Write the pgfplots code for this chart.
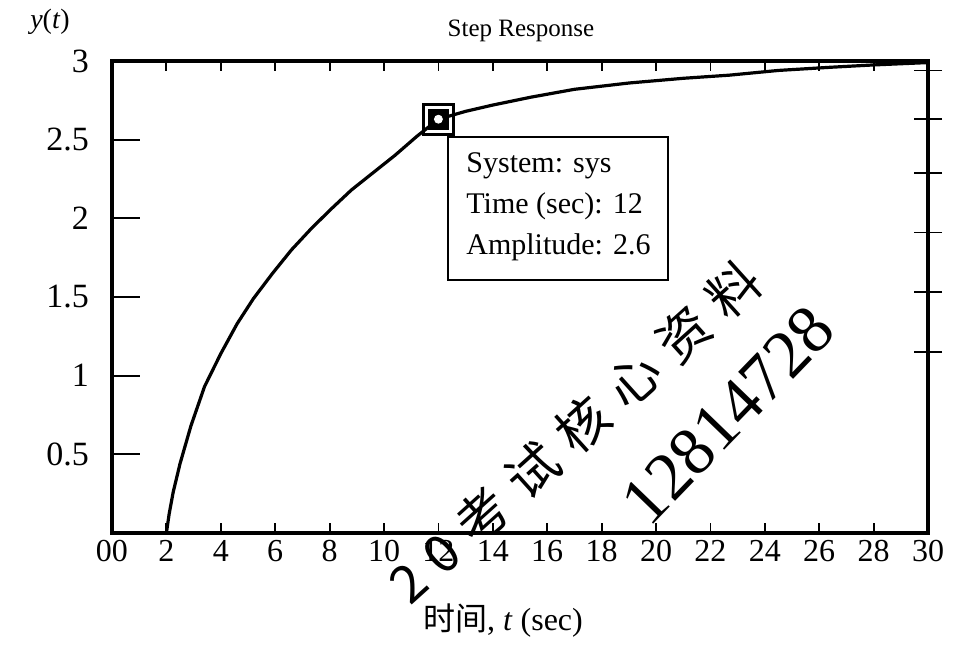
\documentclass[border=0pt]{standalone}
\usepackage{pgfplots}
\pgfplotsset{compat=1.18}
\usepackage{fontspec}
\setmainfont{Liberation Serif}
\newfontfamily\cjk{Noto Sans CJK SC}
\begin{document}
\begin{tikzpicture}
\begin{scope}[x=0.5bp,y=-0.5bp,shift={(-112,-533)}]
\path[use as bounding box] (0,0) rectangle (972,638);
\end{scope}
% main axis: frame, x ticks, curve
\begin{axis}[at={(0,0)},anchor=south west,scale only axis,
  width=408bp,height=236bp,
  xmin=0,xmax=30,ymin=0,ymax=3,
  axis line style={line width=1.6bp},
  xtick={0,2,...,30},
  xticklabels={00,2,4,6,8,10,12,14,16,18,20,22,24,26,28,30},
  xtick pos=both, ytick=\empty,
  tick align=inside, major tick length=5bp,
  every tick/.style={black,line width=0.9bp},
  tick label style={font=\fontsize{16bp}{18bp}\selectfont},
  /pgf/number format/assume math mode=true,
  clip=false]
\addplot[black,line width=1.6bp,line join=round] table {
t y
0 0
2.0 0.00
2.1 0.12
2.25 0.26
2.5 0.44
2.9 0.68
3.4 0.93
4.0 1.14
4.6 1.33
5.2 1.49
5.9 1.65
6.6 1.80
7.3 1.93
8.0 2.05
8.8 2.18
9.6 2.29
10.4 2.40
11.2 2.52
12.0 2.63
13.0 2.68
14.0 2.72
15.4 2.77
17.0 2.82
19.0 2.86
21.0 2.89
22.7 2.91
24.5 2.94
26.4 2.96
28.0 2.975
30.0 2.99
};
\addplot[only marks,mark=square,mark size=7.5bp,mark options={line width=1.5bp,black}] coordinates {(12,2.63)};
\addplot[only marks,mark=square*,mark size=5bp,mark options={black}] coordinates {(12,2.63)};
\addplot[only marks,mark=*,mark size=2bp,mark options={white,draw=white}] coordinates {(12,2.63)};
\end{axis}
% left y ticks (long, inward) with labels
\begin{axis}[at={(0,0)},anchor=south west,scale only axis,
  width=408bp,height=236bp,
  xmin=0,xmax=30,ymin=0,ymax=3,
  axis x line=none, axis y line*=left,
  axis line style={line width=1.6bp},
  ytick={0.5,1,1.5,2,2.5,3},
  yticklabels={0.5,1,1.5,2,2.5,3},
  tick align=inside, major tick length=14bp,
  every tick/.style={black,line width=0.9bp},
  tick label style={font=\fontsize{17bp}{19bp}\selectfont},
  yticklabel style={xshift=-8bp}]
\addplot[draw=none] coordinates {(0,0)};
\end{axis}
% right y ticks (crossing)
\begin{axis}[at={(0,0)},anchor=south west,scale only axis,
  width=408bp,height=236bp,
  xmin=0,xmax=30,ymin=0,ymax=3,
  axis x line=none, axis y line*=right,
  axis line style={line width=1.6bp},
  ytick={1.15,1.53,1.91,2.29,2.63,2.94},
  yticklabels={},
  tick align=center, major tick length=14bp,
  every tick/.style={black,line width=0.9bp}]
\addplot[draw=none] coordinates {(0,0)};
\end{axis}
\begin{scope}[x=0.5bp,y=-0.5bp,shift={(-112,-533)}]
\node[font=\fontsize{12.5bp}{15bp}\selectfont] at (521,31) {Step Response};
\node[font=\fontsize{14bp}{16bp}\selectfont] at (50,22) {\textit{y}(\textit{t})};
\node[font=\fontsize{16bp}{18bp}\selectfont] at (503,621) {{\cjk 时间}, \textit{t} (sec)};
\draw[line width=1bp] (448,137) rectangle (668,280);
\node[anchor=west,align=left,inner sep=0pt,font=\fontsize{15bp}{20.5bp}\selectfont] at (466,207) {System: sys\\Time (sec): 12\\Amplitude: 2.6};
\node[rotate=42,font=\cjk\fontsize{26bp}{26bp}\selectfont] at (575,432) {\addfontfeature{LetterSpace=30}20考试核心资料};
\node[rotate=46,font=\rmfamily\fontsize{34bp}{34bp}\selectfont] at (728,415) {12814728};
\end{scope}
\end{tikzpicture}
\end{document}
